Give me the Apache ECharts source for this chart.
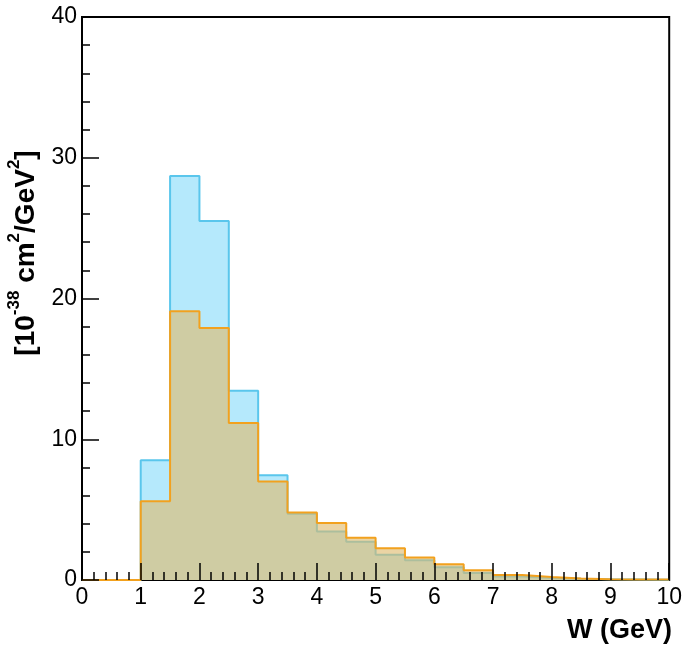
<!DOCTYPE html>
<html>
<head>
<meta charset="utf-8">
<script src="https://cdn.jsdelivr.net/npm/echarts@6/dist/echarts.min.js"></script>
<style>
  html, body { margin: 0; padding: 0; background: #fff; }
  #chart { width: 685px; height: 648px; }
</style>
</head>
<body>
<div id="chart"></div>
<script>
// Histogram bins in W (GeV): lower edges, common width 0.5 GeV
const binLow = [0, 0.5, 1, 1.5, 2, 2.5, 3, 3.5, 4, 4.5, 5, 5.5, 6, 6.5, 7, 7.5, 8, 8.5, 9, 9.5];
const binHigh = 10;

// Differential cross section per bin [10^-38 cm^2/GeV^2]
const blueValues   = [0, 0, 8.5, 28.7, 25.5, 13.45, 7.45, 4.7, 3.45, 2.72, 1.8, 1.4, 0.9, 0.5, 0.25, 0.15, 0.08, 0.05, 0.04, 0.02];
const orangeValues = [0, 0, 5.6, 19.1, 17.9, 11.15, 7.0, 4.8, 4.05, 3.0, 2.25, 1.6, 1.12, 0.7, 0.35, 0.22, 0.1, 0.06, 0.04, 0.03];

// Axis tick labels
const xTicks = [0, 1, 2, 3, 4, 5, 6, 7, 8, 9, 10];
const yTicks = [0, 10, 20, 30, 40];

const FONT = '"Liberation Sans", Arial, Helvetica, sans-serif';

// Step outline points: each bin value held from its lower edge to the next edge
function stepPoints(values) {
  const pts = binLow.map((x, i) => [x, values[i]]);
  pts.push([binHigh, values[values.length - 1]]);
  return pts;
}

const chart = echarts.init(document.getElementById('chart'), null, { renderer: 'canvas' });

// Ticks live on their own layer above the filled histograms; the frame itself
// comes from the grid border so the histogram outlines can run over the baseline.
const axisCommon = {
  type: 'value',
  zlevel: 1,
  axisLine: { show: false, onZero: false },
  axisTick: { show: true, inside: true, length: 17, lineStyle: { color: '#000', width: 1.5 } },
  minorTick: { show: true, splitNumber: 5, length: 8, lineStyle: { color: '#000', width: 1.5 } },
  splitLine: { show: false },
  minorSplitLine: { show: false }
};

chart.setOption({
  backgroundColor: '#fff',
  animation: false,
  grid: {
    left: 82, right: 12, top: 17, bottom: 68,
    show: true, borderColor: '#000', borderWidth: 2, backgroundColor: 'transparent'
  },
  xAxis: Object.assign({}, axisCommon, {
    min: xTicks[0], max: xTicks[xTicks.length - 1], interval: 1,
    axisLabel: {
      fontFamily: FONT, fontSize: 23, color: '#000', margin: 6,
      formatter: v => (xTicks.includes(v) ? String(v) : '')
    }
  }),
  yAxis: Object.assign({}, axisCommon, {
    min: yTicks[0], max: yTicks[yTicks.length - 1], interval: 10,
    axisLabel: {
      fontFamily: FONT, fontSize: 23, color: '#000', margin: 5,
      formatter: v => (yTicks.includes(v) ? String(v) : '')
    }
  }),
  series: [
    {
      name: 'blue',
      type: 'line',
      step: 'end',
      data: stepPoints(blueValues),
      symbol: 'none',
      lineStyle: { color: '#5ac6ec', width: 2 },
      areaStyle: { color: '#b5e9fc', opacity: 1 },
      z: 2
    },
    {
      name: 'orange',
      type: 'line',
      step: 'end',
      data: stepPoints(orangeValues),
      symbol: 'none',
      lineStyle: { color: '#f2a11e', width: 2 },
      areaStyle: { color: 'rgb(223,185,108)', opacity: 0.62 },
      z: 3
    }
  ],
  graphic: [
    {
      type: 'text',
      right: 13,
      top: 617,
      style: {
        text: 'W (GeV)',
        fontFamily: FONT, fontSize: 27, fontWeight: 'bold', fill: '#000'
      }
    },
    {
      type: 'text',
      x: 23,
      y: 253,
      rotation: Math.PI / 2,
      style: {
        text: '{b|[10}{s|-38}{b| cm}{s|2}{b|/GeV}{s|2}{b|]}',
        align: 'center',
        verticalAlign: 'middle',
        rich: {
          b: { fontFamily: FONT, fontSize: 28, fontWeight: 'bold', fill: '#000', lineHeight: 34, verticalAlign: 'bottom' },
          s: { fontFamily: FONT, fontSize: 17, fontWeight: 'bold', fill: '#000', lineHeight: 34, verticalAlign: 'top' }
        }
      }
    }
  ]
});
</script>
</body>
</html>
